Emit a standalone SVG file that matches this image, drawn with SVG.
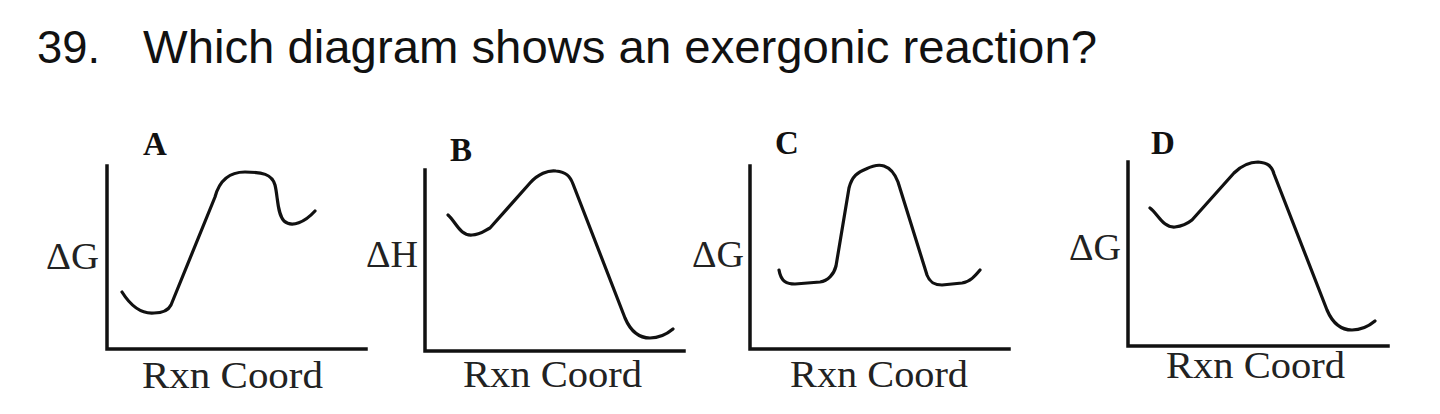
<svg xmlns="http://www.w3.org/2000/svg" width="1440" height="414" viewBox="0 0 1440 414">
<style>
.title{font-family:"Liberation Sans",Arial,sans-serif;font-size:47px;fill:#111}
.lbl{font-family:"Liberation Serif","Times New Roman",serif;font-size:33px;font-weight:bold;fill:#111}
.ax{font-family:"Liberation Serif","Times New Roman",serif;font-size:37px;fill:#222}
.axis{fill:none;stroke:#111;stroke-width:3.5;stroke-linecap:square}
.curve{fill:none;stroke:#111;stroke-width:3.2;stroke-linecap:round;stroke-linejoin:round}
</style>
<rect width="1440" height="414" fill="#fff"/>
<text class="title" x="37" y="63" textLength="63" lengthAdjust="spacingAndGlyphs">39.</text>
<text class="title" x="143" y="63" textLength="954" lengthAdjust="spacingAndGlyphs">Which diagram shows an exergonic reaction?</text>

<g id="panelA">
<text class="lbl" x="143" y="155">A</text>
<path class="axis" d="M107,166 V349 H366"/>
<text class="ax" x="46" y="269" textLength="53" lengthAdjust="spacingAndGlyphs">ΔG</text>
<text class="ax" x="142" y="388" textLength="181" lengthAdjust="spacingAndGlyphs">Rxn Coord</text>
<path class="curve" d="M122,292 C132,308 142,314 154,313 C163,313 168,311 171,305 L215,197 C219,182 228,172 245,172 C262,172 272,174 275,185 C278,197 277,213 284,221 C292,228 305,222 315,211"/>
</g>

<g id="panelB">
<text class="lbl" x="450" y="161">B</text>
<path class="axis" d="M425,170 V351 H684"/>
<text class="ax" x="366" y="267" textLength="52" lengthAdjust="spacingAndGlyphs">ΔH</text>
<text class="ax" x="463" y="387" textLength="179" lengthAdjust="spacingAndGlyphs">Rxn Coord</text>
<path class="curve" d="M448,215 C456,222 460,236 472,235 C480,235 484,231 490,228 L530,183 C538,174 548,170 556,171 C566,172 570,176 573,184 L625,318 C631,332 640,338 650,338 C660,338 667,334 673,329"/>
</g>

<g id="panelC">
<text class="lbl" x="775" y="154">C</text>
<path class="axis" d="M750,166 V349 H1009"/>
<text class="ax" x="692" y="267" textLength="52" lengthAdjust="spacingAndGlyphs">ΔG</text>
<text class="ax" x="790" y="387" textLength="178" lengthAdjust="spacingAndGlyphs">Rxn Coord</text>
<path class="curve" d="M779,270 C781,282 787,284 795,284 L820,282 C828,281 834,274 836,266 L849,188 C852,176 858,172 866,169 C872,166 878,164 884,166 C890,168 895,174 898,182 L927,275 C930,283 935,285 942,285 L962,283 C970,282 975,276 980,270"/>
</g>

<g id="panelD">
<text class="lbl" x="1151" y="154">D</text>
<path class="axis" d="M1128,162 V346 H1388"/>
<text class="ax" x="1069" y="260" textLength="52" lengthAdjust="spacingAndGlyphs">ΔG</text>
<text class="ax" x="1166" y="378" textLength="179" lengthAdjust="spacingAndGlyphs">Rxn Coord</text>
<path class="curve" d="M1150,208 C1158,214 1163,228 1175,227 C1183,226 1187,224 1192,220 L1234,173 C1242,165 1250,162 1258,162 C1268,163 1272,166 1274,174 L1327,310 C1333,324 1342,330 1352,330 C1362,330 1369,326 1375,321"/>
</g>
</svg>
